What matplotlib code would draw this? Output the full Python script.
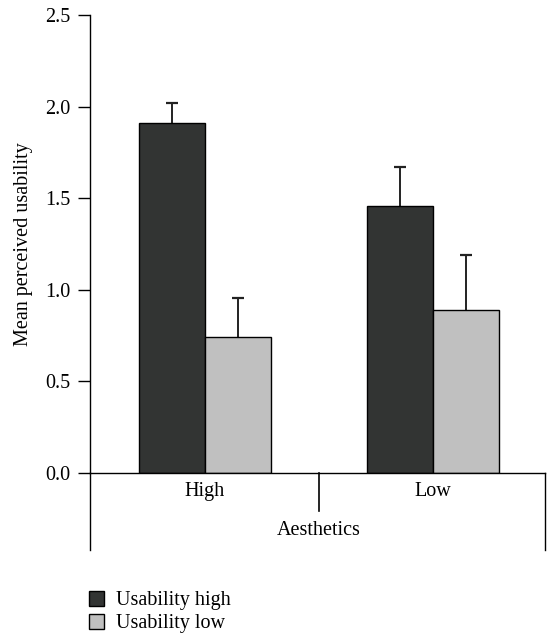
import matplotlib.pyplot as plt
from matplotlib.patches import Patch
from matplotlib.transforms import blended_transform_factory

plt.rcParams['font.family'] = ['Liberation Serif', 'DejaVu Serif']

groups = ['High', 'Low']
series = ['Usability high', 'Usability low']
means_high = [1.91, 1.455]
means_low = [0.74, 0.89]
err_high = [0.11, 0.215]
err_low = [0.215, 0.30]
colors = ['#323433', '#c0c0c0']
fs = 14.5

fig = plt.figure(figsize=(5.48, 6.39), dpi=100)
ax = fig.add_axes([0.164, 0.26, 0.8305, 0.7165])

w = 0.29
pos = [0, 1]
for vals, errs, off, c in [(means_high, err_high, -w / 2, colors[0]),
                           (means_low, err_low, w / 2, colors[1])]:
    xs = [p + off for p in pos]
    ax.bar(xs, vals, width=w, color=c, edgecolor='black', linewidth=1, zorder=2)
    # lower half hides behind the bar
    ax.errorbar(xs, vals, yerr=errs, fmt='none',
                ecolor='#222222', elinewidth=1.4, capsize=4, capthick=1.6, zorder=1)

ax.set_xlim(-0.504, 1.491)
ax.set_ylim(0, 2.5)
ax.set_yticks([0, 0.5, 1.0, 1.5, 2.0, 2.5])
ax.set_yticklabels(['0.0', '0.5', '1.0', '1.5', '2.0', '2.5'], fontsize=fs)
ax.tick_params(axis='y', direction='out', length=9, width=1, pad=5)
ax.set_xticks([])
for s in ['top', 'right']:
    ax.spines[s].set_visible(False)
ax.spines['left'].set_linewidth(1)
ax.spines['bottom'].set_linewidth(1)
ax.set_ylabel('Mean perceived usability', fontsize=fs, labelpad=9)

tr = blended_transform_factory(ax.transData, ax.transAxes)
xl = ax.get_xlim()
for x, d in [(xl[0], -0.168), (xl[1], -0.168), (0.5, -0.083)]:
    ax.plot([x, x], [0, d], color='black', linewidth=1.2 if x == 0.5 else 1,
            transform=tr, clip_on=False)
for p, g in zip(pos, groups):
    ax.text(p, -0.04, g, transform=tr, ha='center', va='center', fontsize=fs)
ax.text(0.5, -0.125, 'Aesthetics', transform=tr, ha='center', va='center', fontsize=fs)

handles = [Patch(facecolor=c, edgecolor='black', linewidth=1) for c in colors]
fig.legend(handles, series, loc='upper left', bbox_to_anchor=(0.148, 0.088),
           frameon=False, fontsize=fs, handlelength=0.75, handleheight=0.75,
           handletextpad=0.6, labelspacing=0.18, borderaxespad=0)

fig.savefig('out.png', dpi=100)
